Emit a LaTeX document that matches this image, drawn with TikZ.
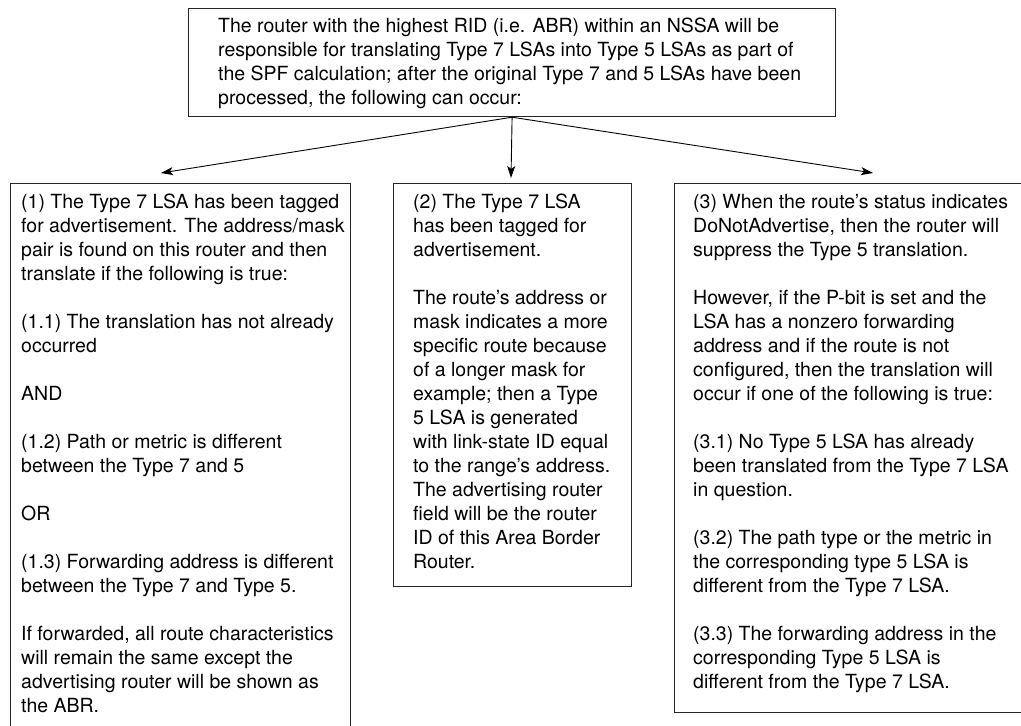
\documentclass[tikz,border=0pt]{standalone}
\usepackage{fontspec}
\setmainfont{TeX Gyre Heros}
\usetikzlibrary{positioning,arrows.meta}

\tikzset{
  panel/.style={draw=black!85, line width=1.2pt, inner sep=0pt, anchor=north west},
  note/.style={align=left, inner sep=0pt, anchor=north west,
    font=\fontsize{19.5}{24}\selectfont},
  feed/.style={-{Stealth[length=12pt,width=8pt,inset=3pt]}, line width=0.9pt}
}

\begin{document}
\begin{tikzpicture}[x=1pt,y=-1pt]
\clip (0,0) rectangle (1021,726);
\fill[white] (0,0) rectangle (1021,726);

% the four boxes
\node[panel, minimum width=647pt, minimum height=108pt] (rid) at (188,8) {};
\node[panel, minimum width=340pt, minimum height=580pt] (one) at (10,183) {};
\node[panel, minimum width=238pt, minimum height=403pt] (two) at (393,183) {};
\node[panel, minimum width=360pt, minimum height=529pt] (three) at (674,183) {};

% their texts
\node[note, below right=10pt and 30pt of rid.north west] (ridtxt) {The router with the highest RID (i.e. ABR) within an NSSA will be\\
responsible for translating Type 7 LSAs into Type 5 LSAs as part of\\
the SPF calculation; after the original Type 7 and 5 LSAs have been\\
processed, the following can occur:};

\node[note, below right=11pt and 11pt of one.north west] (onetxt) {(1) The Type 7 LSA has been tagged\\
for advertisement. The address/mask\\
pair is found on this router and then\\
translate if the following is true:\\[24pt]
(1.1) The translation has not already\\
occurred\\[24pt]
AND\\[24pt]
(1.2) Path or metric is different\\
between the Type 7 and 5\\[24pt]
OR\\[24pt]
(1.3) Forwarding address is different\\
between the Type 7 and Type 5.\\[24pt]
If forwarded, all route characteristics\\
will remain the same except the\\
advertising router will be shown as\\
the ABR.};

\node[note, below right=11pt and 20pt of two.north west] (twotxt) {(2) The Type 7 LSA\\
has been tagged for\\
advertisement.\\[24pt]
The route’s address or\\
mask indicates a more\\
specific route because\\
of a longer mask for\\
example; then a Type\\
5 LSA is generated\\
with link-state ID equal\\
to the range’s address.\\
The advertising router\\
field will be the router\\
ID of this Area Border\\
Router.};

\node[note, below right=11pt and 19pt of three.north west] (threetxt) {(3) When the route’s status indicates\\
DoNotAdvertise, then the router will\\
suppress the Type 5 translation.\\[24pt]
However, if the P-bit is set and the\\
LSA has a nonzero forwarding\\
address and if the route is not\\
configured, then the translation will\\
occur if one of the following is true:\\[24pt]
(3.1) No Type 5 LSA has already\\
been translated from the Type 7 LSA\\
in question.\\[24pt]
(3.2) The path type or the metric in\\
the corresponding type 5 LSA is\\
different from the Type 7 LSA.\\[24pt]
(3.3) The forwarding address in the\\
corresponding Type 5 LSA is\\
different from the Type 7 LSA.};

% arrow ends, just above the boxes
\coordinate (toone) at (161,173);
\coordinate (totwo) at (511,178);
\coordinate (tothree) at (873,173);

\draw[feed] (rid.south) -- (toone);
\draw[feed] (rid.south) -- (totwo);
\draw[feed] (rid.south) -- (tothree);

\end{tikzpicture}
\end{document}
